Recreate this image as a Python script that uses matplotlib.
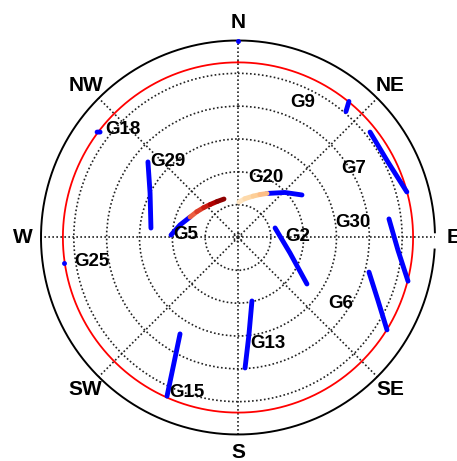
import numpy as np
import matplotlib
matplotlib.use('Agg')
import matplotlib.pyplot as plt
from matplotlib.collections import LineCollection
from matplotlib import rcParams

rcParams['font.family'] = ['Liberation Sans', 'DejaVu Sans']

# satellite tracks: azimuth (deg, clockwise from north) and elevation (deg)
sats = ['G9', 'G7', 'G30', 'G6', 'G2', 'G13', 'G15', 'G25', 'G18', 'G29', 'G5', 'G20', '']
track_az = [
    [39.2, 40.6],
    [51.4, 63.3, 74.9],
    [83.0, 94.5, 104.4],
    [104.8, 114.1, 121.8],
    [75.6, 106.6, 124.0],
    [167.6, 173.6, 176.9],
    [211.0, 206.8, 204.1],
    [261.5],
    [306.8, 307.4],
    [310.0, 296.8, 276.2],
    [272.1, 282.2, 293.1],
    [33.4, 46.2, 56.4],
    [0.0],
]
track_el = [
    [9.8, 14.2],
    [12.8, 13.3, 10.1],
    [20.5, 16.7, 9.8],
    [28.1, 20.0, 9.9],
    [72.5, 65.2, 52.0],
    [60.3, 45.2, 30.3],
    [38.6, 24.7, 10.6],
    [9.6],
    [9.6, 10.7],
    [36.3, 45.0, 50.0],
    [59.4, 62.9, 66.2],
    [65.9, 60.3, 54.9],
    [0.3],
]

# where each satellite name is written (az, el)
label_az = [25.8, 59.1, 82.8, 122.8, 89.5, 164.3, 198.2, 260.5, 313.1, 317.2, 272.8, 25.2]
label_el = [21.7, 28.2, 37.0, 34.0, 62.6, 39.5, 15.3, 22.4, 18.1, 42.9, 66.2, 59.9]

# parts of G5 / G20 coloured by value
g5_az = [293.1, 302.0, 311.0, 320.0, 330.0, 340.0]
g5_el = [66.2, 67.8, 69.2, 70.3, 71.0, 71.3]
g5_val = [0.60, 0.68, 0.76, 0.84, 0.92, 1.00]
g20_az = [1.6, 10.0, 20.0, 27.0, 33.4]
g20_el = [73.8, 72.0, 69.9, 68.0, 65.9]
g20_val = [0.12, 0.18, 0.25, 0.32, 0.40]

mask_el = 10
dirs = ['N', 'NE', 'E', 'SE', 'S', 'SW', 'W', 'NW']
dir_az = [0, 45, 90, 135, 180, 225, 270, 315]

fig = plt.figure(figsize=(4.57, 4.61), dpi=100)
ax = fig.add_axes([0.0897, 0.0575, 0.8621, 0.8547], projection='polar')
ax.set_theta_zero_location('N')
ax.set_theta_direction(-1)
ax.set_rlim(0, 90)
ax.spines['polar'].set_visible(False)
ax.set_facecolor('white')

dots = (0, (1, 1.4))
ax.set_rgrids([1.8, 15, 30, 45, 60, 75], labels=[''] * 6)
ax.set_thetagrids(dir_az, labels=[''] * 8)
ax.grid(True, color='#222222', linestyle=dots, linewidth=1.2)
ax.tick_params(length=0)

# horizon circle, open at the east label
th = np.deg2rad(np.linspace(93.5, 88.5 + 360, 720))
ax.plot(th, np.full_like(th, 90), color='black', lw=1.4, clip_on=False)
# elevation mask
th = np.linspace(0, 2 * np.pi, 721)
ax.plot(th, np.full_like(th, 90 - mask_el), color='red', lw=1.3)

for i, name in enumerate(sats):
    az = np.deg2rad(track_az[i])
    r = 90 - np.array(track_el[i])
    if len(az) == 1:
        ax.plot(az, r, 'o', color='blue', ms=3.5, mec='none', clip_on=False)
    else:
        ax.plot(az, r, '-', color='blue', lw=3.5, solid_capstyle='round')
    if name:
        ax.text(np.deg2rad(label_az[i]), 90 - label_el[i], name,
                ha='center', va='center', fontsize=13.5, fontweight='bold')

cmap = plt.get_cmap('OrRd')
for az, el, val in [(g5_az, g5_el, g5_val), (g20_az, g20_el, g20_val)]:
    pts = np.column_stack([np.deg2rad(az), 90 - np.array(el)])
    segs = np.stack([pts[:-1], pts[1:]], axis=1)
    mid = (np.array(val[:-1]) + np.array(val[1:])) / 2
    lc = LineCollection(segs, colors=cmap(mid), linewidths=3.5, capstyle='round')
    ax.add_collection(lc)

for d, a in zip(dirs, dir_az):
    ax.text(np.deg2rad(a), 98.4, d, ha='center', va='center',
            fontsize=15, fontweight='bold', clip_on=False)

fig.savefig('out.png', dpi=100)
